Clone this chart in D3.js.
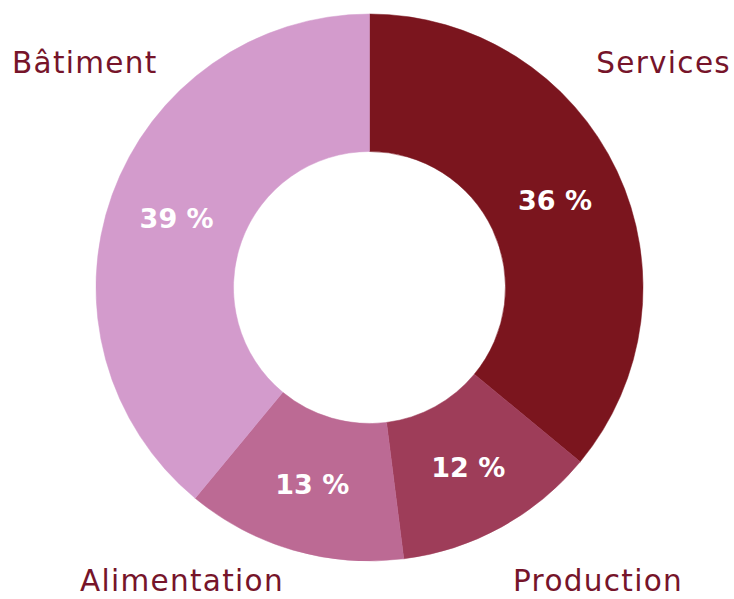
<!DOCTYPE html>
<html>
<head>
<meta charset="utf-8">
<script src="https://cdn.jsdelivr.net/npm/d3@7"></script>
<style>
  html, body { margin: 0; padding: 0; background: #fff; }
  svg { display: block; }
</style>
</head>
<body>
<div id="main"></div>
<script>
// chart data
const categories = ['Services', 'Production', 'Alimentation', 'Bâtiment'];
const shares = [36, 12, 13, 39];
const colors = ['#7b151e', '#9e3d59', '#bc6a94', '#d39bcc'];

const WIDTH = 734, HEIGHT = 599;
const CX = 369.5, CY = 287.5;
const OUTER = 273.5, INNER = 136;
const FONT = '"DejaVu Sans", Verdana, sans-serif';

const svg = d3.select('#main').append('svg')
    .attr('width', WIDTH)
    .attr('height', HEIGHT);

const pie = d3.pie().sort(null).value((d) => d.value);
const arc = d3.arc().innerRadius(INNER).outerRadius(OUTER);
const labelArc = d3.arc().innerRadius(205).outerRadius(205);

const slices = pie(categories.map((name, i) => ({ name, value: shares[i], color: colors[i] })));

const g = svg.append('g').attr('transform', `translate(${CX},${CY})`);

g.selectAll('path.slice').data(slices).enter().append('path')
    .attr('class', 'slice')
    .attr('d', arc)
    .attr('fill', (d) => d.data.color)
    .attr('stroke', (d) => d.data.color)
    .attr('stroke-width', 0.5);

// percentage labels inside the ring
g.selectAll('text.pct').data(slices).enter().append('text')
    .attr('class', 'pct')
    .attr('x', (d) => labelArc.centroid(d)[0])
    .attr('y', (d) => labelArc.centroid(d)[1])
    .attr('dy', '0.36em')
    .attr('text-anchor', 'middle')
    .attr('fill', '#fff')
    .attr('font-family', FONT)
    .attr('font-weight', 700)
    .attr('font-size', 27)
    .text((d) => `${d.data.value} %`);

// category names in the corners
const corner = (d) => {
    const mid = (d.startAngle + d.endAngle) / 2;
    return { right: Math.sin(mid) > 0, top: Math.cos(mid) > 0 };
};
svg.selectAll('text.cat').data(slices).enter().append('text')
    .attr('class', 'cat')
    .attr('x', (d) => {
        const { right, top } = corner(d);
        if (top) return right ? WIDTH - 3 : 12;
        return right ? 683 : 80;
    })
    .attr('y', (d) => corner(d).top ? 73 : 591)
    .attr('text-anchor', (d) => corner(d).right ? 'end' : 'start')
    .attr('fill', '#76142a')
    .attr('font-family', FONT)
    .attr('font-weight', 400)
    .attr('font-size', 29.5)
    .attr('letter-spacing', 1.3)
    .text((d) => d.data.name);
</script>
</body>
</html>
